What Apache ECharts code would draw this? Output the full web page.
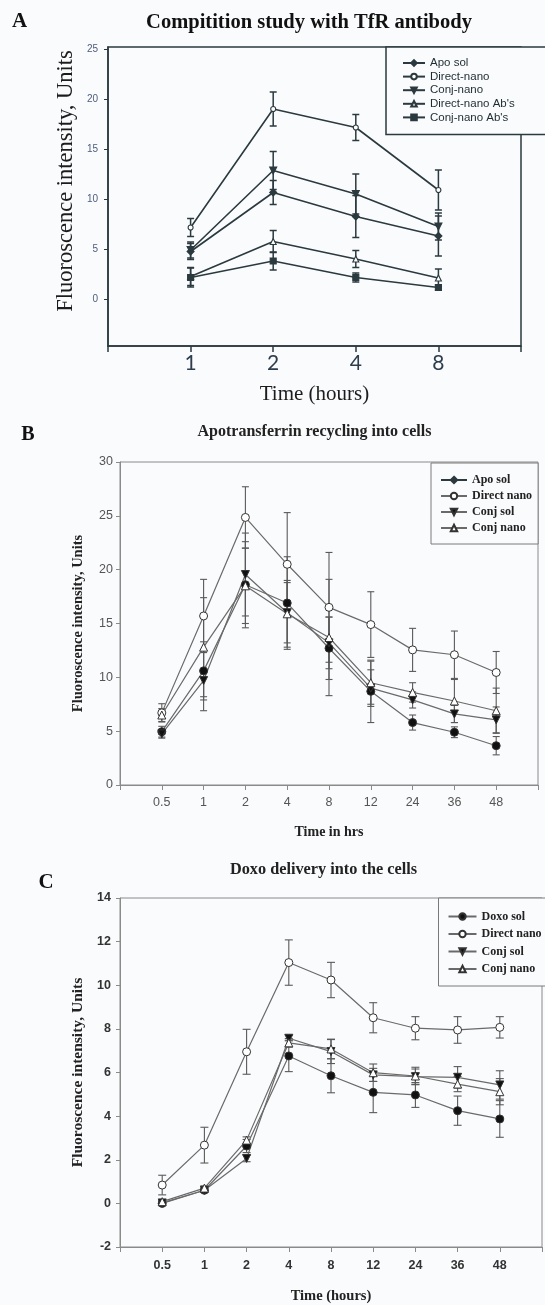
<!DOCTYPE html>
<html>
<head>
<meta charset="utf-8">
<script src="https://cdn.jsdelivr.net/npm/echarts@6/dist/echarts.min.js"></script>
<style>
html,body{margin:0;padding:0;background:#fafbfd;}
#chart{width:545px;height:1305px;}
</style>
</head>
<body>
<div id="chart"></div>
<script>
// ---------- Panel A data ----------
const aTimes = ['1', '2', '4', '8'];
const aApoSol = [4.75, 10.65, 8.25, 6.3];
const aApoSolErr = [0.8, 1.2, 2.1, 2.0];
const aDirectNano = [7.15, 19.0, 17.15, 10.9];
const aDirectNanoErr = [0.9, 1.7, 1.3, 2.0];
const aConjNano = [4.9, 12.85, 10.5, 7.25];
const aConjNanoErr = [0.8, 1.9, 2.0, 1.35];
const aDirectAbs = [2.25, 5.75, 4.0, 2.1];
const aDirectAbsErr = [0.9, 1.1, 0.85, 0.9];
const aConjAbs = [2.15, 3.8, 2.15, 1.15];
const aConjAbsErr = [0.95, 0.9, 0.45, 0.25];
const aYTicks = [0, 5, 10, 15, 20, 25];

// ---------- Panel B data ----------
const bTimes = ['0.5', '1', '2', '4', '8', '12', '24', '36', '48'];
const bApoSol = [4.95, 10.6, 18.6, 16.9, 12.7, 8.7, 5.8, 4.9, 3.65];
const bApoSolErr = [0.5, 2.7, 4.0, 4.3, 2.9, 2.9, 0.7, 0.5, 0.85];
const bDirectNano = [6.7, 15.7, 24.85, 20.5, 16.5, 14.9, 12.55, 12.1, 10.45];
const bDirectNanoErr = [0.85, 3.4, 2.85, 4.8, 5.1, 3.05, 2.0, 2.2, 1.95];
const bConjSol = [4.75, 9.7, 19.55, 16.0, 13.2, 9.0, 7.9, 6.6, 6.05];
const bConjSolErr = [0.4, 2.8, 3.85, 2.8, 2.4, 1.7, 0.75, 0.8, 1.2];
const bConjNano = [6.5, 12.8, 18.5, 15.9, 13.7, 9.5, 8.6, 7.8, 6.9];
const bConjNanoErr = [0.6, 4.6, 3.5, 3.1, 5.4, 2.0, 0.9, 2.0, 2.1];

// ---------- Panel C data ----------
const cTimes = ['0.5', '1', '2', '4', '8', '12', '24', '36', '48'];
const cDoxoSol = [0.0, 0.6, 2.63, 6.76, 5.85, 5.09, 4.97, 4.25, 3.87];
const cDoxoSolErr = [0.1, 0.1, 0.3, 0.72, 0.78, 0.93, 0.57, 0.67, 0.84];
const cDirectNano = [0.84, 2.67, 6.95, 11.04, 10.24, 8.51, 8.03, 7.95, 8.07];
const cDirectNanoErr = [0.45, 0.82, 1.03, 1.04, 0.81, 0.69, 0.53, 0.61, 0.49];
const cConjSol = [0.02, 0.6, 2.06, 7.57, 6.96, 5.89, 5.81, 5.78, 5.43];
const cConjSolErr = [0.1, 0.1, 0.15, 0.12, 0.55, 0.3, 0.35, 0.49, 0.65];
const cConjNano = [0.08, 0.7, 2.9, 7.36, 7.08, 5.99, 5.84, 5.47, 5.12];
const cConjNanoErr = [0.1, 0.1, 0.15, 0.2, 0.45, 0.4, 0.4, 0.35, 0.6];

const SERIF = "'Liberation Serif', 'Times New Roman', serif";
const SANS = "'Liberation Sans', Arial, sans-serif";

const chart = echarts.init(document.getElementById('chart'), null, {renderer: 'canvas'});

function toPts(vals) { return vals.map((v, i) => [i + 1, v]); }

function errSeries(gi, vals, errs, color, lw, cap) {
  return {
    type: 'custom', xAxisIndex: gi, yAxisIndex: gi, silent: true, z: 2,
    data: vals.map((v, i) => [i + 1, v - errs[i], v + errs[i]]),
    encode: {x: 0, y: [1, 2]},
    renderItem: function (params, api) {
      const x = api.value(0);
      const lo = api.coord([x, api.value(1)]);
      const hi = api.coord([x, api.value(2)]);
      const st = {stroke: color, lineWidth: lw, fill: null};
      return {type: 'group', children: [
        {type: 'line', shape: {x1: lo[0], y1: lo[1], x2: hi[0], y2: hi[1]}, style: st},
        {type: 'line', shape: {x1: lo[0] - cap, y1: lo[1], x2: lo[0] + cap, y2: lo[1]}, style: st},
        {type: 'line', shape: {x1: hi[0] - cap, y1: hi[1], x2: hi[0] + cap, y2: hi[1]}, style: st}
      ]};
    }
  };
}

function lineSeries(gi, name, vals, o) {
  return {
    type: 'line', name: name, xAxisIndex: gi, yAxisIndex: gi, z: 5,
    data: toPts(vals),
    symbol: o.symbol, symbolSize: o.size, symbolRotate: o.rot || 0,
    showSymbol: true, animation: false,
    lineStyle: {color: o.line, width: o.lw},
    itemStyle: {color: o.fill, borderColor: o.edge, borderWidth: o.bw, opacity: 1},
    emphasis: {disabled: true}
  };
}

const A_COL = '#2b3a3f';
const B_LINE = '#6a6a6a';
const B_EDGE = '#333333';

const series = [];
// Panel A
const aDefs = [
  ['Apo sol', aApoSol, aApoSolErr, 'diamond', 7, 0, A_COL],
  ['Direct-nano', aDirectNano, aDirectNanoErr, 'circle', 5, 0, '#ffffff'],
  ['Conj-nano', aConjNano, aConjNanoErr, 'triangle', 7, 180, A_COL],
  ["Direct-nano Ab's", aDirectAbs, aDirectAbsErr, 'triangle', 6, 0, '#ffffff'],
  ["Conj-nano Ab's", aConjAbs, aConjAbsErr, 'rect', 6, 0, A_COL]
];
aDefs.forEach(d => series.push(errSeries(0, d[1], d[2], A_COL, 1.5, 3.5)));
aDefs.forEach(d => series.push(lineSeries(0, d[0], d[1], {symbol: d[3], size: d[4], rot: d[5], fill: d[6], edge: A_COL, bw: 1.1, line: A_COL, lw: 1.6})));

// Panel B
const bDefs = [
  ['Apo sol', bApoSol, bApoSolErr, 'circle', 8, 0, '#111111'],
  ['Direct nano', bDirectNano, bDirectNanoErr, 'circle', 8, 0, '#ffffff'],
  ['Conj sol', bConjSol, bConjSolErr, 'triangle', 8, 180, '#111111'],
  ['Conj nano', bConjNano, bConjNanoErr, 'triangle', 8, 0, '#ffffff']
];
bDefs.forEach(d => series.push(errSeries(1, d[1], d[2], '#5a5a5a', 1.1, 3.5)));
bDefs.forEach(d => series.push(lineSeries(1, d[0], d[1], {symbol: d[3], size: d[4], rot: d[5], fill: d[6], edge: B_EDGE, bw: 1, line: B_LINE, lw: 1.2})));

// Panel C
const cDefs = [
  ['Doxo sol', cDoxoSol, cDoxoSolErr, 'circle', 8, 0, '#111111'],
  ['Direct nano', cDirectNano, cDirectNanoErr, 'circle', 8, 0, '#ffffff'],
  ['Conj sol', cConjSol, cConjSolErr, 'triangle', 8, 180, '#111111'],
  ['Conj nano', cConjNano, cConjNanoErr, 'triangle', 8, 0, '#ffffff']
];
cDefs.forEach(d => series.push(errSeries(2, d[1], d[2], '#5a5a5a', 1.1, 4)));
cDefs.forEach(d => series.push(lineSeries(2, d[0], d[1], {symbol: d[3], size: d[4], rot: d[5], fill: d[6], edge: B_EDGE, bw: 1, line: B_LINE, lw: 1.2})));

const option = {
  backgroundColor: '#fafbfd',
  animation: false,
  grid: [
    {left: 108, top: 47, width: 413, height: 299, show: true, borderColor: '#2b3a3f', borderWidth: 1.5, backgroundColor: 'transparent'},
    {left: 120, top: 462, width: 418, height: 323, show: true, borderColor: '#8a8a8a', borderWidth: 1, backgroundColor: 'transparent'},
    {left: 120, top: 898, width: 431, height: 349, show: true, borderColor: '#8a8a8a', borderWidth: 1, backgroundColor: 'transparent'}
  ],
  xAxis: [
    {gridIndex: 0, type: 'value', min: 0, max: 5, interval: 1, splitLine: {show: false},
     axisLine: {show: true, onZero: false, lineStyle: {color: '#2b3a3f', width: 1.5}},
     axisTick: {show: true, inside: false, length: 6, lineStyle: {color: '#2b3a3f', width: 1.5}},
     axisLabel: {margin: 7, color: '#2e3d4d', fontFamily: 'Lato, sans-serif', fontSize: 21, showMinLabel: true, showMaxLabel: true,
       formatter: v => aTimes[v - 1] || ''},
     name: 'Time (hours)', nameLocation: 'middle', nameGap: 38,
     nameTextStyle: {fontFamily: SERIF, fontSize: 21, color: '#1c1c1c'}},
    {gridIndex: 1, type: 'value', min: 0, max: 10, interval: 1, splitLine: {show: false},
     axisLine: {show: true, onZero: false, lineStyle: {color: '#8a8a8a', width: 1}},
     axisTick: {show: true, inside: false, length: 5, lineStyle: {color: '#8a8a8a'}},
     axisLabel: {margin: 11, color: '#555555', fontFamily: SANS, fontSize: 12.5,
       formatter: v => bTimes[v - 1] || ''},
     name: 'Time in hrs', nameLocation: 'middle', nameGap: 40,
     nameTextStyle: {fontFamily: SERIF, fontWeight: 'bold', fontSize: 14, color: '#222'}},
    {gridIndex: 2, type: 'value', min: 0, max: 10, interval: 1, splitLine: {show: false},
     axisLine: {show: true, onZero: false, lineStyle: {color: '#8a8a8a', width: 1}},
     axisTick: {show: true, inside: false, length: 5, lineStyle: {color: '#8a8a8a'}},
     axisLabel: {margin: 12, color: '#333333', fontFamily: SANS, fontWeight: 'bold', fontSize: 12.5,
       formatter: v => cTimes[v - 1] || ''},
     name: 'Time (hours)', nameLocation: 'middle', nameGap: 42,
     nameTextStyle: {fontFamily: SERIF, fontWeight: 'bold', fontSize: 14.5, color: '#222'}}
  ],
  yAxis: [
    {gridIndex: 0, type: 'value', min: -4.7, max: 25.2, splitLine: {show: false},
     axisLine: {show: true, onZero: false, lineStyle: {color: '#2b3a3f', width: 1.5}},
     axisTick: {show: true, inside: false, length: 4, customValues: aYTicks, lineStyle: {color: '#2b3a3f'}},
     axisLabel: {margin: 10, color: '#4d5d7d', fontFamily: SANS, fontSize: 10, customValues: aYTicks}},
    {gridIndex: 1, type: 'value', min: 0, max: 30, interval: 5, splitLine: {show: false},
     axisLine: {show: true, onZero: false, lineStyle: {color: '#8a8a8a', width: 1}},
     axisTick: {show: true, inside: false, length: 4, lineStyle: {color: '#8a8a8a'}},
     axisLabel: {margin: 7, color: '#555555', fontFamily: SANS, fontSize: 12.5},
     name: 'Fluoroscence intensity, Units', nameLocation: 'middle', nameGap: 34,
     nameTextStyle: {fontFamily: SERIF, fontWeight: 'bold', fontSize: 14.5, color: '#222'}},
    {gridIndex: 2, type: 'value', min: -2, max: 14, interval: 2, splitLine: {show: false},
     axisLine: {show: true, onZero: false, lineStyle: {color: '#8a8a8a', width: 1}},
     axisTick: {show: true, inside: false, length: 4, lineStyle: {color: '#8a8a8a'}},
     axisLabel: {margin: 9, color: '#333333', fontFamily: SANS, fontWeight: 'bold', fontSize: 12.5},
     name: 'Fluoroscence intensity, Units', nameLocation: 'middle', nameGap: 33,
     nameTextStyle: {fontFamily: SERIF, fontWeight: 'bold', fontSize: 15.5, color: '#222'}}
  ],
  legend: [
    {data: aDefs.map(d => d[0]), orient: 'vertical', left: 386, top: 47,
     padding: [10, 60, 11, 16], itemWidth: 22, itemHeight: 7, itemGap: 1.6,
     backgroundColor: '#fafbfd', borderColor: '#2b3a3f', borderWidth: 1.5, borderRadius: 0,
     selectedMode: false, z: 10,
     textStyle: {fontFamily: SANS, fontSize: 11.5, color: '#1f2c30', lineHeight: 12}},
    {data: bDefs.map(d => d[0]), orient: 'vertical', left: 431, top: 463,
     padding: [10, 6, 9, 9], itemWidth: 26, itemHeight: 8, itemGap: 2,
     backgroundColor: '#fafbfd', borderColor: '#7a7a7a', borderWidth: 1, borderRadius: 0,
     selectedMode: false, z: 10,
     textStyle: {fontFamily: SERIF, fontWeight: 'bold', fontSize: 12, color: '#222', lineHeight: 14}},
    {data: cDefs.map(d => d[0]), orient: 'vertical', left: 438.5, top: 898,
     padding: [11, 40, 9.5, 9], itemWidth: 28, itemHeight: 8, itemGap: 2.5,
     backgroundColor: '#fafbfd', borderColor: '#7a7a7a', borderWidth: 1, borderRadius: 0,
     selectedMode: false, z: 10,
     textStyle: {fontFamily: SERIF, fontWeight: 'bold', fontSize: 12, color: '#222', lineHeight: 15}}
  ],
  graphic: [
    {type: 'text', left: 12, top: 11, z: 20, style: {text: 'A', font: 'bold 21px ' + SERIF, fill: '#111'}},
    {type: 'text', x: 309, y: 23, z: 20, style: {text: 'Compitition study with TfR antibody', font: 'bold 20.5px ' + SERIF, fill: '#111', align: 'center', verticalAlign: 'middle'}},
    {type: 'text', x: 66, y: 181, rotation: Math.PI / 2, z: 20, style: {text: 'Fluoroscence intensity, Units', font: '22.5px ' + SERIF, fill: '#1c1c1c', align: 'center', verticalAlign: 'middle'}},
    {type: 'text', x: 28, y: 435, z: 20, style: {text: 'B', font: 'bold 20px ' + SERIF, fill: '#111', align: 'center', verticalAlign: 'middle'}},
    {type: 'text', x: 314.5, y: 432, z: 20, style: {text: 'Apotransferrin recycling into cells', font: 'bold 16px ' + SERIF, fill: '#222', align: 'center', verticalAlign: 'middle'}},
    {type: 'text', x: 46, y: 883, z: 20, style: {text: 'C', font: 'bold 21px ' + SERIF, fill: '#111', align: 'center', verticalAlign: 'middle'}},
    {type: 'text', x: 323.5, y: 870, z: 20, style: {text: 'Doxo delivery into the cells', font: 'bold 16.3px ' + SERIF, fill: '#222', align: 'center', verticalAlign: 'middle'}}
  ],
  series: series
};
chart.setOption(option);
</script>
</body>
</html>
